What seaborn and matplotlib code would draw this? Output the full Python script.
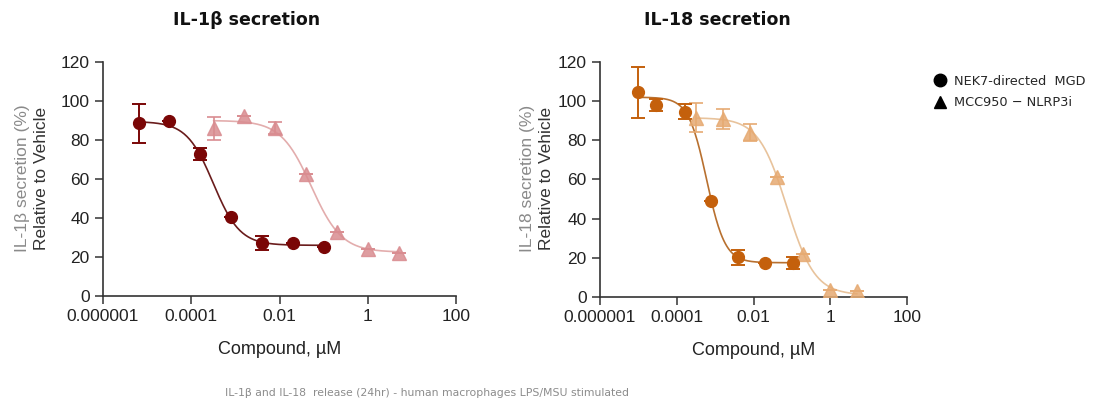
import numpy as np
import pandas as pd
import matplotlib
matplotlib.use("Agg")
import matplotlib.pyplot as plt
import seaborn as sns
from matplotlib.lines import Line2D

# concentrations (uM)
mgd_conc_il1b = [6.4e-6, 3.2e-5, 1.6e-4, 8e-4, 4e-3, 2e-2, 1e-1]
mgd_conc_il18 = [1e-5, 2.9e-5, 1.65e-4, 7.8e-4, 3.9e-3, 2e-2, 1.05e-1]
mcc_conc = [3.2e-4, 1.6e-3, 8e-3, 4e-2, 0.2, 1.0, 5.0]

# IL-1b panel
mgd_il1b = [88.5, 90, 73, 40.5, 27.3, 27.4, 25]
mgd_il1b_err = [10, 0, 3, 0, 3.5, 0, 0]
mcc_il1b = [86, 92.5, 86, 62.5, 33, 24, 22]
mcc_il1b_err = [6, 0, 3, 0, 0, 0, 0]

# IL-18 panel
mgd_il18 = [104.5, 98, 94.7, 49, 20.2, 17.6, 17.2]
mgd_il18_err = [13, 3, 4, 0, 4, 0, 3]
mcc_il18 = [91.5, 91, 83.8, 61.5, 22.2, 3.6, 3.0]
mcc_il18_err = [7.5, 5, 4.3, 0, 0, 0, 0]

# 4PL fit parameters: top, bottom, log10 IC50, hill
fit_mgd_il1b = (89.5, 26.0, -3.50, 1.44)
fit_mcc_il1b = (90.0, 22.5, -1.28, 1.26)
fit_mgd_il18 = (102.0, 17.5, -3.22, 1.82)
fit_mcc_il18 = (91.5, 1.0, -1.135, 1.18)

yticks = [0, 20, 40, 60, 80, 100, 120]
xticks = [1e-6, 1e-4, 1e-2, 1, 100]
xticklabels = ["0.000001", "0.0001", "0.01", "1", "100"]


def fourpl(conc, p):
    top, bottom, logc, hill = p
    lx = np.log10(conc)
    return bottom + (top - bottom) / (1 + 10 ** (hill * (lx - logc)))


sns.set_style("ticks")
plt.rcParams["font.family"] = ["Liberation Sans", "DejaVu Sans"]

fig = plt.figure(figsize=(11, 4.08), dpi=100)
ax1 = fig.add_axes([0.0936, 0.2745, 0.321, 0.5735])
ax2 = fig.add_axes([0.5455, 0.2721, 0.279, 0.576])


def draw_panel(ax, conc1, y1, e1, p1, c1, l1, conc2, y2, e2, p2, c2, l2):
    for conc, y, e, p, col, lcol, mk, ms, alpha in [
        (conc2, y2, e2, p2, c2, l2, "^", 9.5, 0.85),
        (conc1, y1, e1, p1, c1, l1, "o", 8.5, 1.0),
    ]:
        xs = np.logspace(np.log10(conc[0]), np.log10(conc[-1]), 200)
        curve = pd.DataFrame({"x": xs, "y": fourpl(xs, p)})
        sns.lineplot(data=curve, x="x", y="y", ax=ax, color=lcol, lw=1.2, zorder=2)
        ax.errorbar(conc, y, yerr=e, fmt="none", ecolor=col, elinewidth=1.4,
                    capsize=5, capthick=1.4, alpha=alpha, zorder=3)
        ax.plot(conc, y, linestyle="none", marker=mk, ms=ms, color=col,
                mec=col, alpha=alpha, zorder=4)
    ax.set_xscale("log")
    ax.set_xlim(1e-6, 100)
    ax.set_ylim(0, 120)
    ax.set_xticks(xticks)
    ax.set_xticklabels(xticklabels)
    ax.minorticks_off()
    ax.set_yticks(yticks)
    ax.tick_params(labelsize=12.5, colors="#333333", length=6, width=1.1,
                   direction="out")
    for lab in ax.get_xticklabels() + ax.get_yticklabels():
        lab.set_color("#222222")
    sns.despine(ax=ax)
    for s in ["left", "bottom"]:
        ax.spines[s].set_color("#333333")
        ax.spines[s].set_linewidth(1.2)
    ax.set_xlabel("Compound, \u00b5M", fontsize=13, color="#222222", labelpad=12)
    ax.set_ylabel("")


draw_panel(ax1, mgd_conc_il1b, mgd_il1b, mgd_il1b_err, fit_mgd_il1b, "#7a0606", "#6a1c1c",
           mcc_conc, mcc_il1b, mcc_il1b_err, fit_mcc_il1b, "#d98c90", "#e3adad")
draw_panel(ax2, mgd_conc_il18, mgd_il18, mgd_il18_err, fit_mgd_il18, "#c4600c", "#b8702f",
           mcc_conc, mcc_il18, mcc_il18_err, fit_mcc_il18, "#e6aa72", "#e8c39c")

# two-tone y labels
for x0, x1, name in [(0.0205, 0.0375, "IL-1\u03b2"), (0.4795, 0.4965, "IL-18")]:
    fig.text(x0, 0.563, f"{name} secretion (%)", rotation=90, ha="center", va="center",
             fontsize=12.5, color="#8a8a8a")
    fig.text(x1, 0.563, "Relative to Vehicle", rotation=90, ha="center", va="center",
             fontsize=12.5, color="#333333")

# titles
fig.text(0.2245, 0.95, "IL-1\u03b2 secretion", ha="center", va="center", fontsize=12.5,
         fontweight="bold", family=["DejaVu Sans"], color="#111111")
fig.text(0.652, 0.95, "IL-18 secretion", ha="center", va="center", fontsize=12.5,
         fontweight="bold", family=["DejaVu Sans"], color="#111111")

# legend
handles = [
    Line2D([], [], marker="o", ls="none", color="black", ms=9),
    Line2D([], [], marker="^", ls="none", color="black", ms=9),
]
fig.legend(handles, ["NEK7-directed  MGD", "MCC950 \u2212 NLRP3i"], loc="upper left",
           bbox_to_anchor=(0.839, 0.845), frameon=False, handlelength=0.9,
           handletextpad=0.6, labelspacing=0.65,
           prop={"family": "DejaVu Sans", "size": 9.3})

# footer
fig.text(0.388, 0.037, "IL-1\u03b2 and IL-18  release (24hr) - human macrophages LPS/MSU stimulated",
         ha="center", va="center", fontsize=7.8, color="#8c8c8c", family=["DejaVu Sans"])

fig.savefig("out.png", dpi=100, facecolor="white")
